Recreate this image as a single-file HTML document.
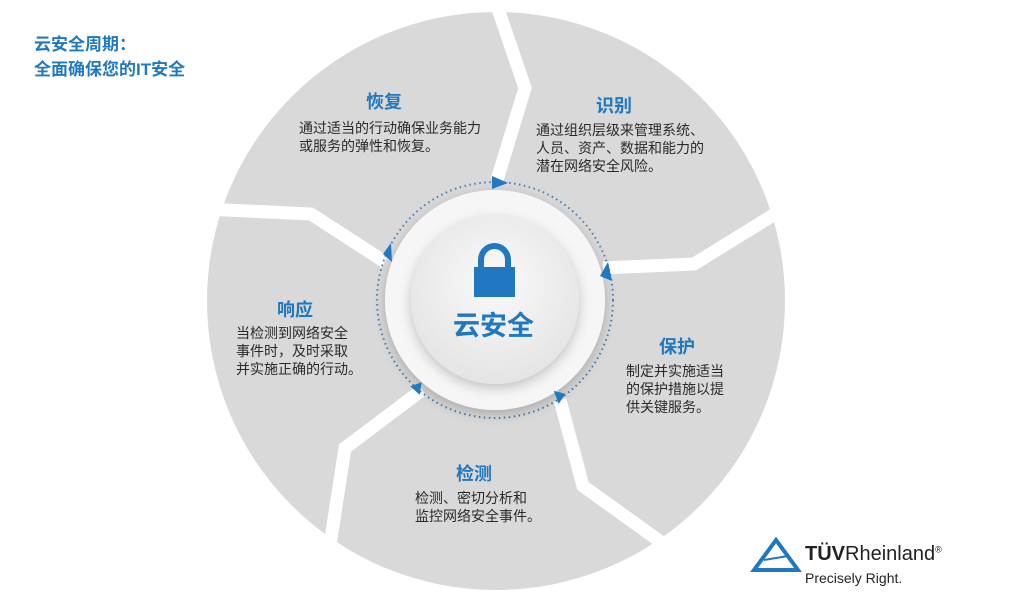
<!DOCTYPE html>
<html><head><meta charset="utf-8"><style>
body{margin:0;width:1024px;height:595px;background:#fff;overflow:hidden;position:relative;font-family:"Liberation Sans","Noto Sans CJK SC",sans-serif}
.t{position:absolute;color:#1f78c0;font-weight:bold}
.p{position:absolute;color:#2a2a2a;font-size:14px;line-height:18px}
</style></head><body>
<svg width="1024" height="595" style="position:absolute;left:0;top:0">
<defs>
<radialGradient id="g" cx="50%" cy="40%" r="60%"><stop offset="0" stop-color="#fafafa"/><stop offset="1" stop-color="#e4e4e4"/></radialGradient>
<filter id="s" x="-30%" y="-30%" width="160%" height="160%"><feDropShadow dx="0" dy="4" stdDeviation="6" flood-color="#000" flood-opacity="0.22"/></filter>
</defs>
<circle cx="496" cy="301" r="289" fill="#d9d9d9"/>
<g fill="none" stroke="#fff" stroke-width="13" stroke-linejoin="miter">
<polyline points="497,180 525,88 495,0"/>
<polyline points="603,268 694,264 775,214"/>
<polyline points="560,400 583,486 665,545"/>
<polyline points="422,390 345,448 330,545"/>
<polyline points="385,262 311,214 205,209"/>
</g>
<circle cx="495" cy="300" r="118" fill="none" stroke="#4a7db0" stroke-width="2" stroke-dasharray="1.5 3.5"/>
<circle cx="495" cy="300" r="110" fill="#f6f6f6" filter="url(#s)"/>
<circle cx="495" cy="300" r="84" fill="url(#g)" filter="url(#s)"/>
<g fill="#1f78c0">
<polygon points="492,176 508,183 492,189"/>
<polygon points="608,262 600,276 612,281"/>
<polygon points="553,392 565,393 560,404" transform="rotate(10 560 396)"/>
<polygon points="412,384 424,384 418,395" transform="rotate(-20 418 390)"/>
<polygon points="383,254 391,243 392,262"/>
</g>
<path d="M481 268 v-8 a13.5 14 0 0 1 27 0 v8" fill="none" stroke="#1f78c0" stroke-width="6"/>
<rect x="474" y="267" width="41" height="30" fill="#1f78c0"/>
<polygon points="776,540 754,570 798,570" fill="none" stroke="#1f78c0" stroke-width="4"/>
<line x1="764" y1="560" x2="788" y2="556" stroke="#1f78c0" stroke-width="2"/>
</svg>
<div class="t" style="left:34px;top:32px;font-size:17px;line-height:25px">云安全周期：<br>全面确保您的IT安全</div>
<div class="t" style="left:453px;top:304px;font-size:27px">云安全</div>
<div class="t" style="left:366px;top:88px;font-size:18px">恢复</div>
<div class="p" style="left:299px;top:119px">通过适当的行动确保业务能力<br>或服务的弹性和恢复。</div>
<div class="t" style="left:596px;top:92px;font-size:18px">识别</div>
<div class="p" style="left:536px;top:121px">通过组织层级来管理系统、<br>人员、资产、数据和能力的<br>潜在网络安全风险。</div>
<div class="t" style="left:277px;top:296px;font-size:18px">响应</div>
<div class="p" style="left:236px;top:324px">当检测到网络安全<br>事件时，及时采取<br>并实施正确的行动。</div>
<div class="t" style="left:659px;top:333px;font-size:18px">保护</div>
<div class="p" style="left:626px;top:362px">制定并实施适当<br>的保护措施以提<br>供关键服务。</div>
<div class="t" style="left:456px;top:460px;font-size:18px">检测</div>
<div class="p" style="left:415px;top:489px">检测、密切分析和<br>监控网络安全事件。</div>
<div style="position:absolute;left:805px;top:543px;font-size:20px;color:#222"><b>TÜV</b>Rheinland<sup style="font-size:9px">®</sup></div>
<div style="position:absolute;left:805px;top:570px;font-size:14px;color:#222">Precisely Right.</div>
</body></html>
